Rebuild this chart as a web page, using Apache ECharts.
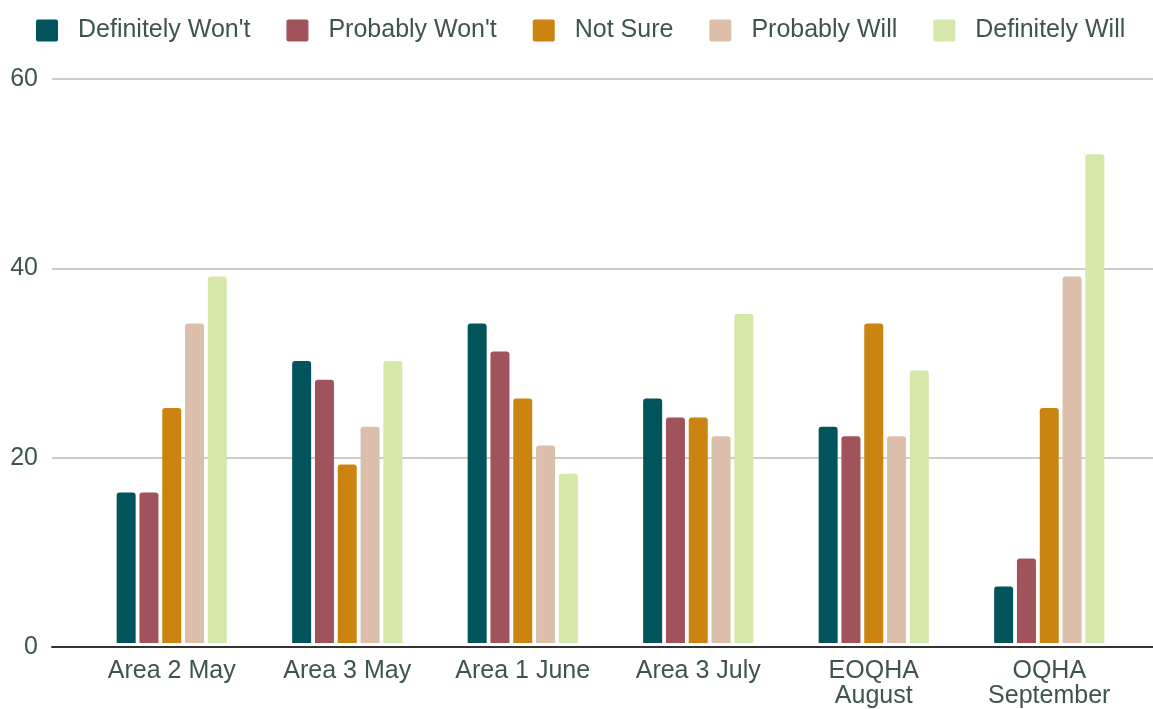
<!DOCTYPE html>
<html>
<head>
<meta charset="utf-8">
<script src="https://cdn.jsdelivr.net/npm/echarts@6/dist/echarts.min.js"></script>
<style>
  html, body { margin: 0; padding: 0; background: #fff; }
  #chart { width: 1153px; height: 709px; }
</style>
</head>
<body>
<div id="chart"></div>
<script>
// 类目 / 系列数据
const categories = ['Area 2 May', 'Area 3 May', 'Area 1 June', 'Area 3 July', 'EOQHA\nAugust', 'OQHA\nSeptember'];
const seriesNames = ["Definitely Won't", "Probably Won't", 'Not Sure', 'Probably Will', 'Definitely Will'];
const definitelyWont = [16, 30, 34, 26, 23, 6];
const probablyWont = [16, 28, 31, 24, 22, 9];
const notSure = [25, 19, 26, 24, 34, 25];
const probablyWill = [34, 23, 21, 22, 22, 39];
const definitelyWill = [39, 30, 18, 35, 29, 52];
const yTicks = [0, 20, 40, 60];

const colors = ['#01535c', '#a0535a', '#cc8411', '#dbbfab', '#d5e8aa'];
const textColor = '#3f5451';
const font = '"Liberation Sans", Arial, sans-serif';

const values = [definitelyWont, probablyWont, notSure, probablyWill, definitelyWill];

const chart = echarts.init(document.getElementById('chart'));
chart.setOption({
  color: colors,
  animation: false,
  textStyle: { fontFamily: font },
  legend: {
    top: 13,
    left: 31,
    itemWidth: 22,
    itemHeight: 22,
    itemGap: 36,
    icon: 'path://M2,0 L20,0 Q22,0 22,2 L22,20 Q22,22 20,22 L2,22 Q0,22 0,20 L0,2 Q0,0 2,0 Z',
    data: seriesNames,
    textStyle: { fontSize: 25, color: textColor, fontFamily: font, padding: [0, 0, 0, 15] }
  },
  grid: [
    // 柱状图区域
    { left: 84, right: 16, top: 79, bottom: 62 },
    // 背景网格 (较宽)
    { left: 52, right: 0, top: 79, bottom: 62 }
  ],
  xAxis: [
    {
      type: 'category', gridIndex: 0, data: categories,
      axisLine: { show: false }, axisTick: { show: false },
      axisLabel: { fontSize: 25, color: textColor, fontFamily: font, margin: 16, lineHeight: 25, interval: 0 }
    },
    {
      type: 'category', gridIndex: 1, data: ['', ''],
      axisLine: { show: true, lineStyle: { color: '#333', width: 2 } },
      axisTick: { show: false }, axisLabel: { show: false }, z: 3
    }
  ],
  yAxis: [
    { type: 'value', gridIndex: 0, min: 0, max: 60, interval: 20, show: false },
    {
      type: 'value', gridIndex: 1, min: yTicks[0], max: yTicks[yTicks.length - 1], interval: 20,
      axisLine: { show: false }, axisTick: { show: false },
      axisLabel: { fontSize: 25, color: textColor, fontFamily: font, margin: 14 },
      splitLine: { lineStyle: { color: '#cccccc', width: 2 } }
    }
  ],
  series: seriesNames.map((name, i) => ({
    name: name,
    type: 'bar',
    xAxisIndex: 0,
    yAxisIndex: 0,
    data: values[i],
    barWidth: 19,
    barGap: '20%',
    itemStyle: { borderRadius: [3, 3, 0, 0] },
    z: 2
  }))
});
</script>
</body>
</html>
